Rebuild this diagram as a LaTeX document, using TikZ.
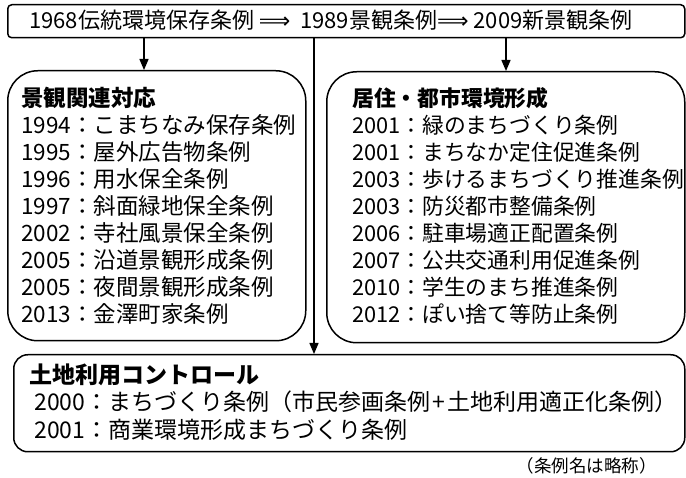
\documentclass[tikz,border=0pt]{standalone}
\usepackage{fontspec}
\setmainfont{Noto Sans CJK JP}
\newfontfamily\dv{DejaVu Sans}
\usetikzlibrary{arrows.meta}
\begin{document}
\begin{tikzpicture}[x=1pt,y=1pt,
  box/.style={draw, line width=1.5pt, anchor=north west, inner sep=0pt},
  conn/.style={line width=1.4pt, -{Triangle[width=9pt,length=11pt]}},
  body/.style={anchor=north west, align=left, inner sep=0pt, font=\fontsize{21.8}{27}\selectfont}]
\useasboundingbox (0,0) rectangle (686,-478);
% boxes
\node[box, rounded corners=4pt, minimum width=677pt, minimum height=33pt] (T) at (7,-4) {};
\node[box, rounded corners=30pt, minimum width=298pt, minimum height=270pt] (L) at (7,-70) {};
\node[box, rounded corners=30pt, minimum width=358pt, minimum height=271pt] (R) at (326,-71) {};
\node[box, rounded corners=14pt, minimum width=671pt, minimum height=97pt] (B) at (13,-354) {};
% texts
\node[anchor=west, inner sep=0pt, font=\fontsize{22}{24}\selectfont] (Tt) at (29,-20)
  {1968伝統環境保存条例 {\dv ⟹}\ \ 1989景観条例{\dv ⟹} 2009新景観条例};
\node[body, font=\fontsize{22.5}{27}\selectfont] (Lt) at (21,-86.5) {{\bfseries 景観関連対応}\\
1994：こまちなみ保存条例\\
1995：屋外広告物条例\\
1996：用水保全条例\\
1997：斜面緑地保全条例\\
2002：寺社風景保全条例\\
2005：沿道景観形成条例\\
2005：夜間景観形成条例\\
2013：金澤町家条例};
\node[body] (Rt) at (352,-87) {{\bfseries 居住・都市環境形成}\\
2001：緑のまちづくり条例\\
2001：まちなか定住促進条例\\
2003：歩けるまちづくり推進条例\\
2003：防災都市整備条例\\
2006：駐車場適正配置条例\\
2007：公共交通利用促進条例\\
2010：学生のまち推進条例\\
2012：ぽい捨て等防止条例};
\node[body, font=\fontsize{23}{27.5}\selectfont] (Bt) at (29,-363.5) {{\bfseries 土地利用コントロール}\\
\ 2000：まちづくり条例（市民参画条例\kern2pt+\kern2pt 土地利用適正化条例）\\
\ 2001：商業環境形成まちづくり条例};
\node[anchor=east, inner sep=0pt, font=\fontsize{17.5}{19}\selectfont] (note) at (657,-466) {（条例名は略称）};
% connectors
\coordinate (la) at (144,0);
\coordinate (ra) at (506,0);
\coordinate (ma) at (314,0);
\draw[conn] (T.south -| la) -- (L.north -| la);
\draw[conn] (T.south -| ra) -- (R.north -| ra);
\draw[conn] (T.south -| ma) -- (B.north -| ma);
\end{tikzpicture}
\end{document}
